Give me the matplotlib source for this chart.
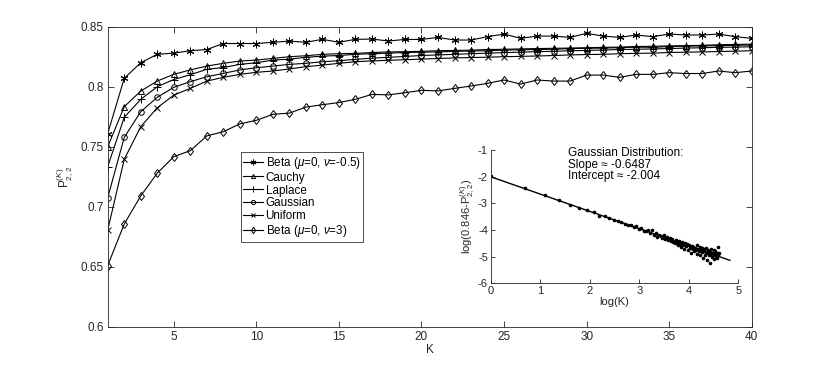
import numpy as np
import matplotlib
matplotlib.use("Agg")
import matplotlib.pyplot as plt

plt.rcParams['font.family'] = ['Liberation Sans', 'DejaVu Sans']
plt.rcParams['mathtext.fontset'] = 'custom'
plt.rcParams['mathtext.rm'] = 'Liberation Sans'
plt.rcParams['mathtext.it'] = 'Liberation Sans:italic'
plt.rcParams['axes.unicode_minus'] = False

# ---- main panel data: P_{2,2}^{(K)} for K = 1..40 ----
K = list(range(1, 41))

beta_m05 = [0.761, 0.807, 0.820, 0.827, 0.828, 0.830, 0.831, 0.836, 0.836, 0.836,
            0.837, 0.838, 0.837, 0.8395, 0.837, 0.8395, 0.8397, 0.8381, 0.8394, 0.8394,
            0.8411, 0.8389, 0.8389, 0.8417, 0.8439, 0.8403, 0.8422, 0.8422, 0.8411, 0.8445,
            0.8422, 0.8411, 0.8431, 0.8417, 0.8439, 0.8431, 0.8431, 0.8439, 0.8417, 0.8403]
cauchy = [0.750, 0.7833, 0.7964, 0.8047, 0.8103, 0.814, 0.8172, 0.8195, 0.8214, 0.8222,
          0.8236, 0.825, 0.8258, 0.827, 0.8275, 0.8278, 0.8285, 0.829, 0.8292, 0.8295,
          0.830, 0.8302, 0.8305, 0.831, 0.8312, 0.8315, 0.8318, 0.832, 0.8322, 0.8325,
          0.8328, 0.833, 0.8335, 0.8337, 0.834, 0.8342, 0.8345, 0.835, 0.8352, 0.8355]
laplace = [0.7335, 0.7745, 0.7895, 0.800, 0.806, 0.810, 0.8145, 0.816, 0.8186, 0.820,
           0.8222, 0.823, 0.8245, 0.8255, 0.826, 0.827, 0.8275, 0.828, 0.8285, 0.8288,
           0.829, 0.8295, 0.8298, 0.830, 0.8305, 0.8308, 0.831, 0.8312, 0.8318, 0.832,
           0.8322, 0.8325, 0.833, 0.8328, 0.8335, 0.8338, 0.834, 0.8342, 0.8345, 0.8348]
gaussian = [0.7075, 0.7578, 0.7792, 0.7912, 0.7995, 0.8042, 0.8083, 0.8111, 0.814, 0.8158,
            0.8172, 0.8186, 0.8195, 0.8208, 0.8217, 0.8228, 0.8238, 0.8245, 0.8252, 0.826,
            0.8265, 0.827, 0.8275, 0.828, 0.8284, 0.8288, 0.8292, 0.8295, 0.830, 0.8302,
            0.8306, 0.831, 0.8312, 0.8315, 0.8318, 0.8322, 0.8325, 0.8328, 0.833, 0.8333]
uniform = [0.6806, 0.7395, 0.7667, 0.7825, 0.793, 0.7986, 0.8047, 0.8078, 0.8103, 0.812,
           0.8131, 0.8148, 0.8167, 0.818, 0.8195, 0.8208, 0.8215, 0.822, 0.8225, 0.823,
           0.8235, 0.824, 0.8243, 0.8246, 0.825, 0.8253, 0.8256, 0.826, 0.8265, 0.8268,
           0.827, 0.8275, 0.8278, 0.828, 0.8285, 0.8288, 0.829, 0.8293, 0.8296, 0.830]
beta_3 = [0.651, 0.6856, 0.709, 0.728, 0.7417, 0.7467, 0.759, 0.7625, 0.769, 0.772,
          0.777, 0.778, 0.783, 0.785, 0.7868, 0.7895, 0.7936, 0.7932, 0.795, 0.797,
          0.7965, 0.7986, 0.8006, 0.8028, 0.8056, 0.8022, 0.8056, 0.8047, 0.8047, 0.8097,
          0.8097, 0.8078, 0.8103, 0.8103, 0.8117, 0.811, 0.811, 0.8131, 0.8117, 0.8131]

labels = ['Beta ($\\mu$=0, $\\nu$=-0.5)', 'Cauchy', 'Laplace', 'Gaussian', 'Uniform',
          'Beta ($\\mu$=0, $\\nu$=3)']

# ---- inset data: log(0.846 - P) for Gaussian, K = 1..100 ----
K_inset = list(range(1, 101))
log_gap = [-1.98, -2.43, -2.70, -2.89, -3.07, -3.17, -3.24, -3.34, -3.46, -3.48,
           -3.55, -3.61, -3.66, -3.69, -3.77, -3.82, -3.80, -3.90, -3.86, -3.97,
           -3.93, -4.03, -4.05, -3.99, -4.12, -4.00, -4.17, -4.11, -4.25, -4.18,
           -4.22, -4.29, -4.20, -4.34, -4.27, -4.38, -4.30, -4.42, -4.33, -4.44,
           -4.50, -4.36, -4.47, -4.58, -4.41, -4.52, -4.62, -4.45, -4.55, -4.70,
           -4.48, -4.60, -4.52, -4.76, -4.57, -4.66, -4.85, -4.59, -4.72, -4.62,
           -4.80, -4.68, -4.75, -4.58, -4.90, -4.70, -4.78, -4.65, -4.95, -4.73,
           -4.84, -4.68, -5.05, -4.79, -4.72, -4.92, -4.81, -4.66, -5.12, -4.86,
           -4.76, -4.95, -5.25, -4.82, -4.90, -4.70, -5.02, -4.85, -4.95, -4.75,
           -5.08, -4.88, -4.80, -4.98, -4.92, -4.85, -5.05, -4.62, -4.95, -4.88]
slope = -0.6487
intercept = -2.004
fit_x_end = 4.83

ink = '#262626'

fig = plt.figure(figsize=(8.3, 3.67), dpi=100)
ax = fig.add_axes([0.1298, 0.1098, 0.7759, 0.8174])

series = [beta_m05, cauchy, laplace, gaussian, uniform, beta_3]
markers = [(6, 2, 0), '^', '+', 'o', 'x', 'd']
msizes = [5.5, 4, 5.5, 4, 4.5, 4.5]
for ys, m, ms, lab in zip(series, markers, msizes, labels):
    ax.plot(K, ys, color='black', linewidth=0.8, marker=m, markersize=ms,
            markerfacecolor='none', markeredgecolor='black', markeredgewidth=0.7,
            label=lab)

ax.set_xlim(1, 40)
ax.set_ylim(0.6, 0.85)
ax.set_xticks([5, 10, 15, 20, 25, 30, 35, 40])
ax.set_yticks([0.6, 0.65, 0.7, 0.75, 0.8, 0.85])
ax.set_yticklabels(['0.6', '0.65', '0.7', '0.75', '0.8', '0.85'])
ax.tick_params(direction='in', top=True, right=True, labelsize=8.5, colors=ink,
               length=4, width=0.6, pad=3)
for s in ax.spines.values():
    s.set_color(ink)
    s.set_linewidth(0.6)
ax.set_xlabel('K', fontsize=8.5, color=ink, labelpad=1)
ax.set_ylabel('P$_{2,2}^{(K)}$', fontsize=8.5, color=ink, labelpad=4)

leg = ax.legend(loc='upper left', bbox_to_anchor=(0.2904, 0.585), bbox_transform=fig.transFigure,
                fontsize=8.4, frameon=True, fancybox=False, handlelength=1.7, markerscale=0.75,
                handletextpad=0.2, borderpad=0.2, labelspacing=0.08, borderaxespad=0)
leg.get_frame().set_edgecolor('black')
leg.get_frame().set_linewidth(0.6)

# ---- inset ----
ins = fig.add_axes([0.5912, 0.228, 0.2983, 0.3633])
ins.set_facecolor('none')
ins.plot(np.log(K_inset), log_gap, linestyle='none', marker='o', markersize=1.6,
         color='black')
ins.plot([0, fit_x_end], [intercept, intercept + slope * fit_x_end], color='black',
         linewidth=1.0)
ins.set_xlim(0, 5)
ins.set_ylim(-6, -1)
ins.set_xticks([0, 1, 2, 3, 4, 5])
ins.set_yticks([-6, -5, -4, -3, -2, -1])
ins.spines['top'].set_visible(False)
ins.spines['right'].set_visible(False)
for s in ('left', 'bottom'):
    ins.spines[s].set_color(ink)
    ins.spines[s].set_linewidth(0.6)
ins.tick_params(direction='in', labelsize=8, colors=ink, length=3, width=0.6, pad=2)
ins.set_xlabel('log(K)', fontsize=8, color=ink, labelpad=1)
ins.set_ylabel('log(0.846-P$_{2,2}^{(K)}$)', fontsize=8, color=ink, labelpad=1)
ins.text(1.56, -0.9, 'Gaussian Distribution:\nSlope \u2248 -0.6487\nIntercept \u2248 -2.004',
         fontsize=8.5, va='top', ha='left', color='black', linespacing=0.95)

fig.savefig('out.png', dpi=100)
